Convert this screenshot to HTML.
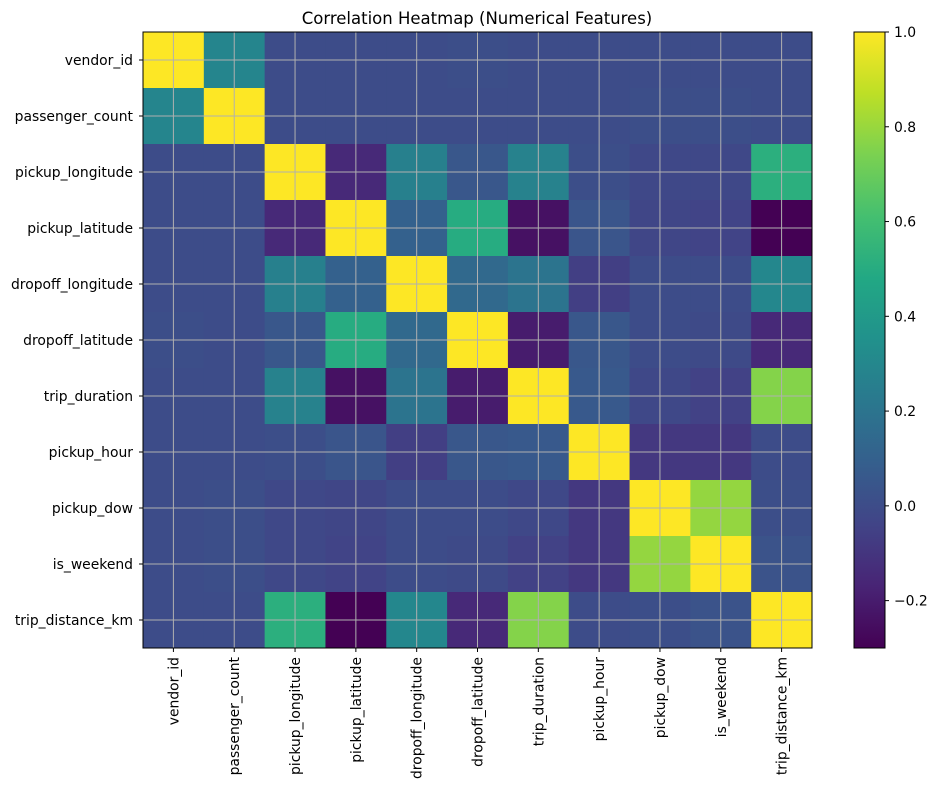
<!DOCTYPE html>
<html><head><meta charset="utf-8"><style>
body{margin:0;background:#fff;font-family:"Liberation Sans","DejaVu Sans",sans-serif}
svg text{font-family:"DejaVu Sans","Liberation Sans",sans-serif;font-size:13.9px;fill:#000}
</style></head><body>
<svg id="chart" width="938" height="790" xmlns="http://www.w3.org/2000/svg">
<text x="477" y="24" text-anchor="middle" style="font-size:16.5px">Correlation Heatmap (Numerical Features)</text>
<g id="cells"></g>
<g id="grid"></g>
<rect x="143" y="32" width="669" height="616" fill="none" stroke="#000" stroke-width="1"/>
<g id="axes"></g>
<defs><linearGradient id="cbg" x1="0" y1="1" x2="0" y2="0"></linearGradient></defs>
<rect x="854" y="32" width="31" height="616" fill="url(#cbg)" stroke="#000" stroke-width="1"/>
<g id="cbticks"></g>
</svg>
<script>
const labels=["vendor_id","passenger_count","pickup_longitude","pickup_latitude","dropoff_longitude","dropoff_latitude","trip_duration","pickup_hour","pickup_dow","is_weekend","trip_distance_km"];
const row0=[1,0.29,0,0,0,0.01,0,0,0,0,0];
const row1=[0.29,1,0,0,0,0,0,0,0.01,0.01,0];
const row2=[0,0,1,-0.15,0.26,0.05,0.27,0.01,-0.02,-0.02,0.52];
const row3=[0,0,-0.15,1,0.1,0.5,-0.24,0.04,-0.03,-0.04,-0.3];
const row4=[0,0,0.26,0.1,1,0.14,0.2,-0.06,0,0,0.3];
const row5=[0.01,0,0.05,0.5,0.14,1,-0.2,0.05,0,-0.01,-0.15];
const row6=[0,0,0.27,-0.24,0.2,-0.2,1,0.06,-0.02,-0.05,0.76];
const row7=[0,0,0.01,0.04,-0.06,0.05,0.06,1,-0.09,-0.09,0];
const row8=[0,0.01,-0.02,-0.03,0,0,-0.02,-0.09,1,0.79,0.01];
const row9=[0,0.01,-0.02,-0.04,0,-0.01,-0.05,-0.09,0.79,1,0.03];
const row10=[0,0,0.52,-0.3,0.3,-0.15,0.76,0,0.01,0.03,1];
const matrix=[row0,row1,row2,row3,row4,row5,row6,row7,row8,row9,row10];
const cbTicks=[-0.2,0,0.2,0.4,0.6,0.8,1.0];
const cbTickLabels=["\u22120.2","0.0","0.2","0.4","0.6","0.8","1.0"];
const vmin=-0.3,vmax=1.0;
const NS="http://www.w3.org/2000/svg";
const stops=["#440154","#482475","#414487","#355f8d","#2a788e","#21918c","#22a884","#44bf70","#7ad151","#bddf26","#fde725"];
function hex(c){return [1,3,5].map(i=>parseInt(c.substr(i,2),16));}
function viridis(t){t=Math.max(0,Math.min(1,t));const p=t*10,i=Math.min(9,Math.floor(p)),f=p-i;const a=hex(stops[i]),b=hex(stops[i+1]);return "rgb("+a.map((v,k)=>Math.round(v+(b[k]-v)*f)).join(",")+")";}
const X0=143,Y0=32,W=669,H=616,n=labels.length,cw=W/n,ch=H/n;
const xPos=i=>X0+i*cw, yPos=i=>Y0+i*ch;
const cbY=v=>Y0+H-(v-vmin)/(vmax-vmin)*H;
function mk(tag,attrs,parent){const e=document.createElementNS(NS,tag);for(const k in attrs)e.setAttribute(k,attrs[k]);parent.appendChild(e);return e;}
const cells=document.getElementById('cells'),grid=document.getElementById('grid'),axes=document.getElementById('axes');
matrix.forEach((row,r)=>row.forEach((v,c)=>{
 const e=mk('rect',{x:xPos(c),y:yPos(r),width:cw+0.5,height:ch+0.5,fill:viridis((v-vmin)/(vmax-vmin))},cells);
 
 
}));
labels.forEach((l,i)=>{
 const cx=xPos(i)+cw/2, cy=yPos(i)+ch/2;
 mk('line',{x1:cx,y1:Y0,x2:cx,y2:Y0+H,stroke:"#b0b0b0","stroke-width":1},grid);
 mk('line',{x1:X0,y1:cy,x2:X0+W,y2:cy,stroke:"#b0b0b0","stroke-width":1},grid);
 mk('line',{x1:cx,y1:Y0+H,x2:cx,y2:Y0+H+4,stroke:"#000"},axes);
 mk('line',{x1:X0-4,y1:cy,x2:X0,y2:cy,stroke:"#000"},axes);
 const ty=mk('text',{x:X0-10,y:cy+5,"text-anchor":"end"},axes);ty.textContent=l;
 
 
 const tx=mk('text',{x:cx+5,y:Y0+H+9,"text-anchor":"end",transform:"rotate(-90 "+(cx+5)+" "+(Y0+H+9)+")"},axes);tx.textContent=l;
 
 
});
const g=document.getElementById('cbg');
for(let k=0;k<=10;k++)mk('stop',{offset:(k*10)+"%","stop-color":stops[k]},g);
const cbt=document.getElementById('cbticks');
cbTicks.forEach((v,i)=>{
 const y=cbY(v);
 mk('line',{x1:885,y1:y,x2:889,y2:y,stroke:"#000"},cbt);
 const t=mk('text',{x:894,y:y+5},cbt);t.textContent=cbTickLabels[i];
 
 
});
</script>
</body></html>
